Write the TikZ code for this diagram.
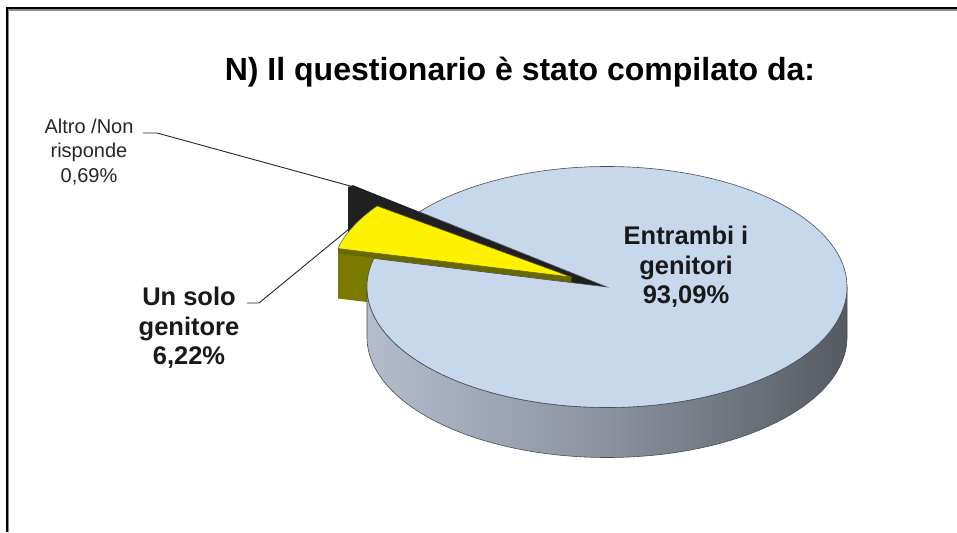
\documentclass[tikz,border=0pt]{standalone}
\usepackage{fontspec}
\setmainfont{Liberation Sans}
\definecolor{pietop}{RGB}{200,216,236}
\definecolor{sideL}{RGB}{180,188,204}
\definecolor{sideM}{RGB}{140,146,158}
\definecolor{sideR}{RGB}{86,91,98}
\definecolor{oliveside}{RGB}{122,122,0}
\definecolor{olivestrip}{RGB}{104,104,0}
\definecolor{blk}{RGB}{32,32,32}
\definecolor{edgec}{RGB}{72,76,86}
\definecolor{framegray}{RGB}{140,140,140}
\tikzset{
  pieedge/.style={draw=edgec, line width=0.6pt},
  leader/.style={draw=black!85, line width=0.9pt},
  smalllab/.style={align=center, inner sep=0pt, text=black!85, font=\fontsize{20}{24.5}\selectfont},
  boldlab/.style={align=center, inner sep=0pt, text=black!90, font=\bfseries\fontsize{25.5}{29.5}\selectfont},
  er/.style={x radius=240pt, y radius=120.5pt}
}
\begin{document}
\begin{tikzpicture}[x=1pt,y=1pt]
\useasboundingbox (0,0) rectangle (957,532);
\fill[white] (0,0) rectangle (957,532);
% frame
\draw[black, line width=2pt] (7,0) -- (7,523.7) -- (958,523.7);
\draw[framegray, line width=1.2pt] (8.8,0) -- (8.8,522) -- (958,522);

% title
\node[anchor=base, inner sep=0pt, font=\bfseries\fontsize{32}{36}\selectfont] (title) at (520,451) {N) Il questionario è stato compilato da:};

% pie geometry
\coordinate (C) at (607,245);
\coordinate (CY) at (571,255);

% dark region: black slice + notch wall
\fill[blk] (348,345) -- (353,346.8) -- (C) -- (373.8,273.5) -- (348,298) -- cycle;

% yellow slice radial face + outer face (olive)
\fill[oliveside] (338,283.5) -- (571,255) -- (571,205) -- (338,233.5) -- cycle;
\fill[olivestrip] (338,283.5) -- (571,255) -- (571,250) -- (338,278.5) -- cycle;

% big pie side
\path[pieedge, left color=sideL, right color=sideR, middle color=sideM]
  (367,245) arc[start angle=180, end angle=360, er] -- ++(0,-50)
  arc[start angle=360, end angle=180, er] -- cycle;
% big pie top face with notch
\path[pieedge, fill=pietop]
  (C) -- ++(166.3:240pt and 120.5pt) arc[start angle=166.3, end angle=501.4, er] -- cycle;

% yellow slice top face
\path[fill=yellow, draw=olivestrip, line width=0.5pt]
  (CY) -- ++(143.9:240pt and 120.5pt) arc[start angle=143.9, end angle=166.3, er] -- cycle;

% labels
\node[boldlab] (big) at (686,265) {Entrambi i\\genitori\\93,09\%};
\node[boldlab] (uno) at (189,204) {Un solo\\genitore\\6,22\%};
\node[smalllab] (altro) at (89,380) {Altro /Non\\risponde\\0,69\%};

% leaders
\coordinate (altroTail) at (143,399);
\coordinate (altroEnd) at (352,345.5);
\coordinate (unoTail) at (247,229);
\coordinate (unoEnd) at (349,303);
\draw[leader] (altroTail) -- ++(14,0) -- (altroEnd);
\draw[leader] (unoTail) -- ++(12,0) -- (unoEnd);
\end{tikzpicture}
\end{document}
